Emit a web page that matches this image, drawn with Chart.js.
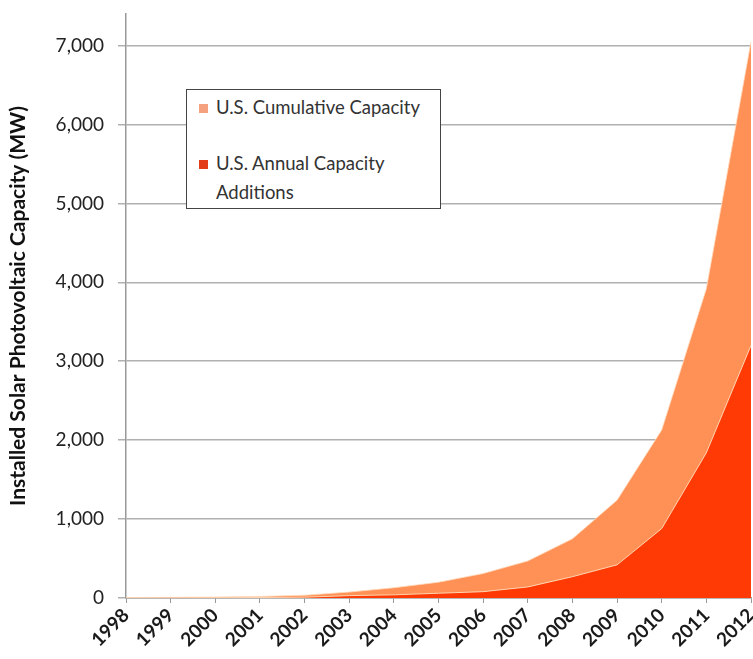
<!DOCTYPE html>
<html>
<head>
<meta charset="utf-8">
<script src="https://cdn.jsdelivr.net/npm/chart.js@4"></script>
<style>
  html, body { margin: 0; padding: 0; background: #fff; }
  #wrap { position: relative; width: 753px; height: 659px; }
  #legend {
    position: absolute; left: 186px; top: 89px; width: 255px; height: 120px;
    border: 1.5px solid #444; background: #fff; box-sizing: border-box;
    font-family: Lato, "Open Sans", sans-serif; font-size: 18.5px; color: #333;
  }
  .item { position: absolute; left: 12px; padding-left: 17px; line-height: 29px; }
  .sw { position: absolute; left: 0; top: 11px; width: 9px; height: 9px; }
</style>
</head>
<body>
<div id="wrap">
  <canvas id="pvChart" width="753" height="659"></canvas>
  <div id="legend">
    <div class="item" style="top:3px"><span class="sw" style="background:#f5a07e"></span>U.S. Cumulative Capacity</div>
    <div class="item" style="top:59px"><span class="sw" style="background:#e23c18"></span>U.S. Annual Capacity<br>Additions</div>
  </div>
</div>
<script>
const years = ['1998', '1999', '2000', '2001', '2002', '2003', '2004', '2005', '2006', '2007', '2008', '2009', '2010', '2011', '2012'];
const cumulative = [5, 8, 12, 20, 35, 75, 130, 200, 310, 470, 750, 1240, 2130, 3920, 7050];
const annual = [0, 2, 4, 6, 10, 30, 40, 60, 80, 140, 270, 420, 880, 1840, 3200];
const yTicks = [0, 1000, 2000, 3000, 4000, 5000, 6000, 7000];

const ctx = document.getElementById('pvChart').getContext('2d');
new Chart(ctx, {
  type: 'line',
  data: {
    labels: years,
    datasets: [{
      label: 'U.S. Annual Capacity Additions',
      data: annual,
      fill: 'origin',
      backgroundColor: '#ff3a05',
      borderColor: 'rgba(255,225,190,0.9)',
      borderWidth: 1,
      pointRadius: 0,
      tension: 0,
      order: 1
    }, {
      label: 'U.S. Cumulative Capacity',
      data: cumulative,
      fill: 'origin',
      backgroundColor: '#ff9157',
      borderColor: 'rgba(255,220,190,0.8)',
      borderWidth: 1,
      pointRadius: 0,
      tension: 0,
      order: 2
    }]
  },
  options: {
    responsive: false,
    animation: false,
    layout: { padding: { left: 6, top: 14, right: 2, bottom: 0 } },
    plugins: { legend: { display: false }, tooltip: { enabled: false } },
    scales: {
      x: {
        offset: false,
        border: { color: '#999', width: 1.5 },
        grid: { drawOnChartArea: false, drawTicks: true, tickLength: 5, color: '#999' },
        ticks: {
          autoSkip: false, maxRotation: 45, minRotation: 45, padding: 1,
          color: '#1a1a1a', font: { family: 'Lato', size: 19, weight: 'bold' }
        },
        afterFit(scale) { scale.height = 61; scale.paddingRight = 0; scale.paddingLeft = 0; }
      },
      y: {
        min: 0,
        max: 7400,
        afterBuildTicks(scale) { scale.ticks = yTicks.map(v => ({ value: v })); },
        border: { color: '#999', width: 1.5 },
        grid: { color: '#b0b0b0', lineWidth: 1.5, tickLength: 8 },
        ticks: {
          padding: 14, color: '#222',
          font: { family: 'Lato', size: 19 },
          callback: v => v.toLocaleString('en-US')
        },
        title: {
          display: true,
          text: 'Installed Solar Photovoltaic Capacity (MW)',
          color: '#111',
          font: { family: 'Lato', size: 21, weight: 'bold' },
          padding: 0
        },
        afterFit(scale) { scale.width = 120; scale.paddingTop = 0; scale.paddingBottom = 0; }
      }
    }
  }
});
</script>
</body>
</html>
